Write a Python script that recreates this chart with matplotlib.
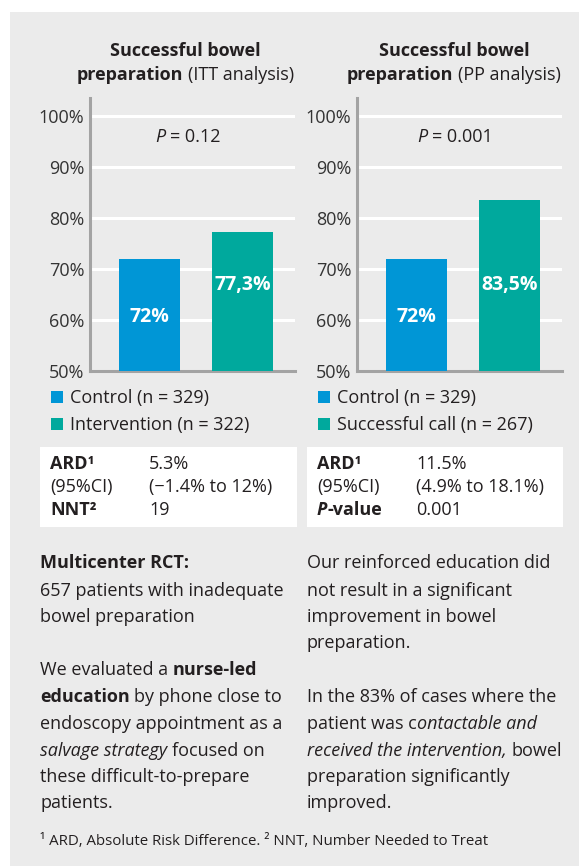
import matplotlib
matplotlib.use('Agg')
import matplotlib.pyplot as plt
from matplotlib.patches import Rectangle

W, H = 579, 866
plt.rcParams['font.family'] = ['Open Sans', 'DejaVu Sans']

# data
tick_values = [50, 60, 70, 80, 90, 100]
tick_labels = ['50%', '60%', '70%', '80%', '90%', '100%']

itt_groups = ['Control (n = 329)', 'Intervention (n = 322)']
itt_values = [72, 77.3]
itt_labels = ['72%', '77,3%']
itt_p = '0.12'
itt_stats = [('ARD¹', '5.3%'), ('(95%CI)', '(\u22121.4% to 12%)'), ('NNT²', '19')]

pp_groups = ['Control (n = 329)', 'Successful call (n = 267)']
pp_values = [72, 83.5]
pp_labels = ['72%', '83,5%']
pp_p = '0.001'
pp_stats = [('ARD¹', '11.5%'), ('(95%CI)', '(4.9% to 18.1%)'), ('P-value', '0.001')]

colors = ['#0096d6', '#00a99d']
TXT = '#231f20'
GREY = '#ebebeb'
AXC = '#a3a3a3'
FS = 13

fig = plt.figure(figsize=(W / 100, H / 100), dpi=100)
fig.patch.set_facecolor('white')
renderer = fig.canvas.get_renderer()


def fx(x):
    return x / W


def fy(y):
    return 1 - y / H


def put(x, y, s, **kw):
    return fig.text(fx(x), fy(y), s, va='baseline', **kw)


def width(t):
    return t.get_window_extent(renderer).width


def space(size):
    a = put(0, 0, 'n n', size=size)
    b = put(0, 0, 'nn', size=size)
    w = width(a) - width(b)
    a.remove()
    b.remove()
    return w


def runs(x, y, parts, size=FS, color=TXT, center=False):
    sp = space(size)
    cur = x
    arts = []
    for s, w, st in parts:
        if s.startswith(' '):
            cur += sp
            s = s[1:]
        t = put(cur, y, s, size=size, weight=w, style=st, color=color)
        cur += width(t)
        arts.append(t)
    if center:
        shift = (cur - x) / 2
        for t in arts:
            px, py = t.get_position()
            t.set_position((px - shift / W, py))
    return arts


def rect(x0, y0, x1, y1, color, z=0):
    fig.patches.append(Rectangle((fx(x0), fy(y1)), (x1 - x0) / W, (y1 - y0) / H,
                                 transform=fig.transFigure, facecolor=color,
                                 edgecolor='none', zorder=z))


# background panel and stats boxes
rect(10, 12, 579, 866, GREY, z=-10)
rect(40, 447, 297, 527, 'white', z=-9)
rect(307, 447, 563, 527, 'white', z=-9)


def chart(x0, values, labels, groups, p, stats, kind, tcx):
    ax = fig.add_axes([fx(x0), fy(371), 205 / W, 273 / H])
    ax.set_facecolor('none')
    ax.bar([0, 1], values, width=0.656, bottom=0, color=colors, zorder=3)
    ax.set_xlim(-0.64, 1.565)
    ax.set_ylim(50, 103.5)
    ax.set_yticks(tick_values)
    ax.set_yticklabels(tick_labels)
    ax.set_xticks([])
    ax.yaxis.grid(True, color='white', lw=2.2)
    ax.set_axisbelow(True)
    for s in ['top', 'right']:
        ax.spines[s].set_visible(False)
    for s in ['left', 'bottom']:
        ax.spines[s].set_color(AXC)
        ax.spines[s].set_linewidth(2.2)
    ax.tick_params(axis='y', length=0, pad=4, labelsize=FS, labelcolor='#333333')
    for i, lab in enumerate(labels):
        ax.text(i, [60.6, 66.9][i], lab, ha='center', va='center', color='white',
                fontsize=14, fontweight='bold')

    # title
    runs(tcx, 56, [('Successful bowel', 'bold', 'normal')], size=13, center=True)
    runs(tcx, 80, [('preparation', 'bold', 'normal'),
                   (' (' + kind + ' analysis)', 'normal', 'normal')], size=13, center=True)
    # p value
    runs(x0 + 98, 142, [('P', 'normal', 'italic'), (' = ' + p, 'normal', 'normal')],
         center=True)

    # legend
    lx = x0 - 40
    for i, g in enumerate(groups):
        yc = 397 + 27 * i
        rect(lx + 1, yc - 6, lx + 13, yc + 6, colors[i])
        put(lx + 20, yc + 6, g, size=FS, color=TXT)

    # stats
    for i, (k, v) in enumerate(stats):
        yb = 469 + 23 * i
        if k == '(95%CI)':
            put(lx, yb, k, size=FS, color=TXT)
        elif k == 'P-value':
            runs(lx, yb, [('P', 'bold', 'italic'), ('-value', 'bold', 'normal')])
        else:
            put(lx, yb, k, size=FS, color=TXT, weight='bold')
        put(lx + 99, yb, v, size=FS, color=TXT)


chart(90, itt_values, itt_labels, itt_groups, itt_p, itt_stats, 'ITT', 185)
chart(357, pp_values, pp_labels, pp_groups, pp_p, pp_stats, 'PP', 454)

# text blocks
R, B, I = 'normal', 'bold', 'italic'
left_lines = [
    [('Multicenter RCT:', B, R)],
    [('657 patients with inadequate', R, R)],
    [('bowel preparation', R, R)],
    None,
    [('We evaluated a', R, R), (' nurse-led', B, R)],
    [('education', B, R), (' by phone close to', R, R)],
    [('endoscopy appointment as a', R, R)],
    [('salvage strategy', R, I), (' focused on', R, R)],
    [('these difficult-to-prepare', R, R)],
    [('patients.', R, R)],
]
right_lines = [
    [('Our reinforced education did', R, R)],
    [('not result in a significant', R, R)],
    [('improvement in bowel', R, R)],
    [('preparation.', R, R)],
    None,
    [('In the 83% of cases where the', R, R)],
    [('patient was c', R, R), ('ontactable and', R, I)],
    [('received the intervention,', R, I), (' bowel', R, R)],
    [('preparation significantly', R, R)],
    [('improved.', R, R)],
]
left_y = [568, 596, 622, None, 675, 702, 729, 756, 782, 808]
right_y = [568, 596, 622, 648, None, 702, 729, 756, 782, 808]
for parts, y in zip(left_lines, left_y):
    if parts:
        runs(40, y, parts)
for parts, y in zip(right_lines, right_y):
    if parts:
        runs(307, y, parts)

put(40, 845, '¹ ARD, Absolute Risk Difference. ² NNT, Number Needed to Treat',
    size=10.8, color=TXT)

fig.savefig('out.png', dpi=100, facecolor='white')
